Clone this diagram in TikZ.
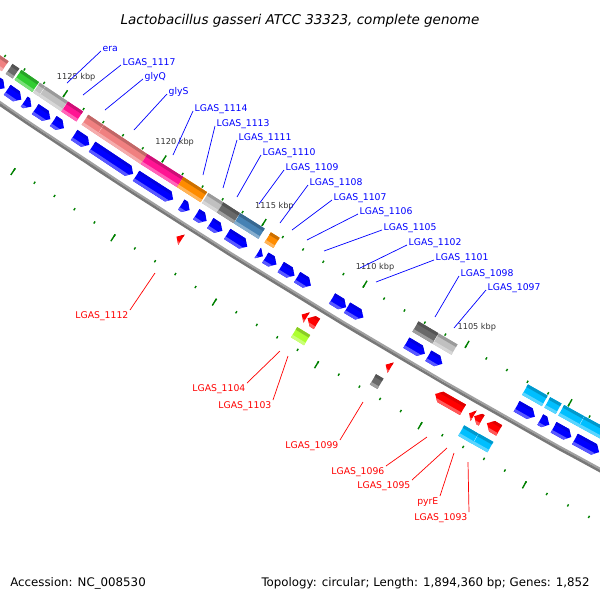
\documentclass[tikz,border=0pt]{standalone}
\usepackage{fontspec}
\setmainfont{DejaVu Sans}
\usepackage{xcolor}
\definecolor{cgblue}{RGB}{0,0,255}
\definecolor{cgred}{RGB}{255,0,0}
\definecolor{salmonc}{RGB}{240,128,128}
\definecolor{pinkc}{RGB}{255,20,147}
\definecolor{orangec}{RGB}{255,140,0}
\definecolor{silverc}{RGB}{192,192,192}
\definecolor{dimc}{RGB}{105,105,105}
\definecolor{limec}{RGB}{50,205,50}
\definecolor{steelc}{RGB}{70,130,180}
\definecolor{skyc}{RGB}{0,191,255}
\definecolor{gyellowc}{RGB}{173,255,47}
\definecolor{tickc}{RGB}{0,128,0}

\newcommand{\labfont}{\fontsize{6.6pt}{7pt}\selectfont}
\newcommand{\kbpfont}{\fontsize{5.8pt}{6pt}\selectfont}
\newcommand{\titfont}{\fontsize{9.6pt}{11pt}\selectfont\itshape}
\newcommand{\infofont}{\fontsize{8.4pt}{10pt}\selectfont}

% box feature: from kbp #1 to kbp #2, inner edge at #3 px outside the ruler
\newcommand{\gbox}[4]{%
  \pgfmathsetmacro\ga{121.46+0.19004*(#1-1112.5)}
  \pgfmathsetmacro\gb{121.46+0.19004*(#2-1112.5)}
  \pgfmathsetmacro\ra{7140+#3}
  \pgfmathsetmacro\rb{\ra+3}
  \pgfmathsetmacro\rc{\ra+9}
  \pgfmathsetmacro\rd{\ra+12}
  \fill[#4] (\ga:\ra) -- (\gb:\ra) -- (\gb:\rd) -- (\ga:\rd) -- cycle;
  \fill[#4!80!black] (\ga:\ra) -- (\gb:\ra) -- (\gb:\rb) -- (\ga:\rb) -- cycle;
  \fill[#4!65!white] (\ga:\rc) -- (\gb:\rc) -- (\gb:\rd) -- (\ga:\rd) -- cycle;
}
% arrow feature: from kbp #1 with its tip at kbp #2
\newcommand{\garrow}[4]{%
  \pgfmathsetmacro\ga{121.46+0.19004*(#1-1112.5)}
  \pgfmathsetmacro\gt{121.46+0.19004*(#2-1112.5)}
  \pgfmathsetmacro\hl{#1>#2 ? min(0.25,#1-#2) : -min(0.25,#2-#1)}
  \pgfmathsetmacro\gn{121.46+0.19004*(#2+\hl-1112.5)}
  \pgfmathsetmacro\gh{(\gn+\gt)/2}
  \pgfmathsetmacro\ra{7140+#3}
  \pgfmathsetmacro\rb{\ra+3}
  \pgfmathsetmacro\rm{\ra+6}
  \pgfmathsetmacro\rc{\ra+9}
  \pgfmathsetmacro\rd{\ra+12}
  \fill[#4] (\ga:\ra) -- (\gn:\ra) -- (\gt:\rm) -- (\gn:\rd) -- (\ga:\rd) -- cycle;
  \fill[#4!88!black] (\ga:\ra) -- (\gn:\ra) -- (\gh:\rb) -- (\ga:\rb) -- cycle;
  \fill[#4!65!white] (\ga:\rc) -- (\gh:\rc) -- (\gn:\rd) -- (\ga:\rd) -- cycle;
}

\begin{document}
\begin{tikzpicture}[x=0.025cm, y=-0.025cm,
    blab/.style={text=cgblue, font=\labfont, inner sep=1pt},
    rlab/.style={text=cgred, font=\labfont, inner sep=1pt},
    bline/.style={cgblue, line width=0.5pt},
    rline/.style={cgred, line width=0.5pt},
    klab/.style={text=black!80, font=\kbpfont, inner sep=0pt},
    tickm/.style={tickc, line width=1pt}]
    \useasboundingbox (0,0) rectangle (600,600);
    \clip (0,0) rectangle (600,600);

    % Title and footer
    \node[font=\titfont, anchor=base] (title) at (300,24) {Lactobacillus gasseri ATCC 33323, complete genome};
    \node[font=\infofont, anchor=base west, inner sep=0pt] (acc) at (10,586) {Accession: NC\_008530};
    \node[font=\infofont, anchor=base east, inner sep=0pt] (topo) at (590,586) {Topology: circular; Length: 1,894,360 bp; Genes: 1,852};

    \begin{scope}[shift={(4041.3,-5837.7)}]
        % Backbone
        \fill[black!37] plot[domain=117:126, samples=60] (\x:7183.5) -- plot[domain=126:117, samples=60] (\x:7185.5) -- cycle;
        \fill[black!53] plot[domain=117:126, samples=60] (\x:7185.5) -- plot[domain=126:117, samples=60] (\x:7188) -- cycle;

        % Ruler ticks
        \foreach \k in {1096,...,1130} {
            \pgfmathsetmacro\ta{121.46+0.19004*(\k-1112.5)}
            \draw[tickm] (\ta:7142.5) -- (\ta:7145);
            \draw[tickm] (\ta:7231) -- (\ta:7233.5);
        }
        \foreach \k in {1100,1105,...,1130} {
            \pgfmathsetmacro\ta{121.46+0.19004*(\k-1112.5)}
            \draw[tickm] (\ta:7137) -- (\ta:7145);
            \draw[tickm] (\ta:7231) -- (\ta:7239);
        }
        \foreach \k in {1105,1110,...,1125} {
            \pgfmathsetmacro\ta{121.46+0.19004*(\k-1112.5)}
            \node[klab] (t\k) at (\ta:7121.5) {\k\ kbp};
        }

        % Outer COG row (reverse strand)
        \gbox{1130}{1127.75}{6}{salmonc}
        \gbox{1127.55}{1127.2}{6}{dimc}
        \gbox{1127.1}{1126.2}{6}{limec}
        \gbox{1126.15}{1125.88}{6}{silverc}
        \gbox{1125.86}{1124.74}{6}{silverc}
        \gbox{1124.72}{1123.96}{6}{pinkc}
        \gbox{1123.7}{1122.93}{6}{salmonc}
        \gbox{1122.91}{1120.7}{6}{salmonc}
        \gbox{1120.7}{1118.9}{6}{pinkc}
        \gbox{1118.9}{1117.72}{6}{orangec}
        \gbox{1117.65}{1116.9}{6}{silverc}
        \gbox{1116.9}{1116.08}{6}{dimc}
        \gbox{1116.06}{1114.84}{6}{steelc}
        \gbox{1114.54}{1114.1}{6}{orangec}
        \gbox{1107.26}{1106.28}{6}{dimc}
        \gbox{1106.26}{1105.35}{6}{silverc}
        \gbox{1101.93}{1100.97}{6}{skyc}
        \gbox{1100.85}{1100.3}{6}{skyc}
        \gbox{1100.17}{1099.21}{6}{skyc}
        \gbox{1099.19}{1097.5}{6}{skyc}

        % Reverse strand genes
        \garrow{1130}{1127.25}{24.5}{cgblue}
        \garrow{1127.12}{1126.4}{24.5}{cgblue}
        \garrow{1126.25}{1125.88}{24.5}{cgblue}
        \garrow{1125.69}{1124.93}{24.5}{cgblue}
        \garrow{1124.78}{1124.24}{24.5}{cgblue}
        \garrow{1123.72}{1122.96}{24.5}{cgblue}
        \garrow{1122.82}{1120.75}{24.5}{cgblue}
        \garrow{1120.6}{1118.75}{24.5}{cgblue}
        \garrow{1118.35}{1117.93}{24.5}{cgblue}
        \garrow{1117.6}{1117.08}{24.5}{cgblue}
        \garrow{1116.9}{1116.3}{24.5}{cgblue}
        \garrow{1116.06}{1115.06}{24.5}{cgblue}
        \garrow{1114.55}{1114.29}{24.5}{cgblue}
        \garrow{1114.17}{1113.62}{24.5}{cgblue}
        \garrow{1113.41}{1112.73}{24.5}{cgblue}
        \garrow{1112.6}{1111.92}{24.5}{cgblue}
        \garrow{1110.88}{1110.18}{24.5}{cgblue}
        \garrow{1110.14}{1109.34}{24.5}{cgblue}
        \garrow{1107.24}{1106.34}{24.5}{cgblue}
        \garrow{1106.17}{1105.49}{24.5}{cgblue}
        \garrow{1101.89}{1101.01}{24.5}{cgblue}
        \garrow{1100.75}{1100.31}{24.5}{cgblue}
        \garrow{1100.1}{1099.25}{24.5}{cgblue}
        \garrow{1099.08}{1097.92}{24.5}{cgblue}
        \garrow{1097.75}{1096.5}{24.5}{cgblue}

        % Forward strand genes
        \garrow{1117.55}{1117.8}{54}{cgred}
        \garrow{1111.38}{1111.62}{54}{cgred}
        \garrow{1110.87}{1111.33}{54}{cgred}
        \garrow{1107.28}{1107.53}{54}{cgred}
        \garrow{1103.78}{1105.12}{54}{cgred}
        \garrow{1103.27}{1103.48}{54}{cgred}
        \garrow{1102.88}{1103.24}{54}{cgred}
        \garrow{1102.03}{1102.63}{54}{cgred}

        % Inner COG row (forward strand)
        \gbox{1111.51}{1110.87}{73}{gyellowc}
        \gbox{1107.67}{1107.31}{73}{dimc}
        \gbox{1103.41}{1102.73}{73}{skyc}
        \gbox{1102.71}{1102.01}{73}{skyc}
    \end{scope}

    % Label anchors on the map
    \coordinate (era-f) at (67,83);
    \coordinate (g1117-f) at (83,95);
    \coordinate (glyQ-f) at (105,110);
    \coordinate (glyS-f) at (134,130);
    \coordinate (g1114-f) at (173,155);
    \coordinate (g1113-f) at (203,175);
    \coordinate (g1111-f) at (223,188);
    \coordinate (g1110-f) at (237,197);
    \coordinate (g1109-f) at (259,204);
    \coordinate (g1108-f) at (280,223);
    \coordinate (g1107-f) at (292,230);
    \coordinate (g1106-f) at (307,240);
    \coordinate (g1105-f) at (324,251);
    \coordinate (g1102-f) at (360,268);
    \coordinate (g1101-f) at (376,282);
    \coordinate (g1098-f) at (435,317);
    \coordinate (g1097-f) at (454,328);
    \coordinate (g1112-f) at (155,273);
    \coordinate (g1104-f) at (280,351);
    \coordinate (g1103-f) at (288,356);
    \coordinate (g1099-f) at (363,402);
    \coordinate (g1096-f) at (427,437);
    \coordinate (g1095-f) at (447,448);
    \coordinate (pyrE-f) at (454,453);
    \coordinate (g1093-f) at (468,462);

    % Reverse strand labels
    \node[blab, anchor=base west] (era) at (101,51) {era};
    \node[blab, anchor=base west] (g1117) at (121,65) {LGAS\_1117};
    \node[blab, anchor=base west] (glyQ) at (143,79) {glyQ};
    \node[blab, anchor=base west] (glyS) at (167,94) {glyS};
    \node[blab, anchor=base west] (g1114) at (193,111) {LGAS\_1114};
    \node[blab, anchor=base west] (g1113) at (215,126) {LGAS\_1113};
    \node[blab, anchor=base west] (g1111) at (237,140) {LGAS\_1111};
    \node[blab, anchor=base west] (g1110) at (261,155) {LGAS\_1110};
    \node[blab, anchor=base west] (g1109) at (284,170) {LGAS\_1109};
    \node[blab, anchor=base west] (g1108) at (308,185) {LGAS\_1108};
    \node[blab, anchor=base west] (g1107) at (332,200) {LGAS\_1107};
    \node[blab, anchor=base west] (g1106) at (358,214) {LGAS\_1106};
    \node[blab, anchor=base west] (g1105) at (382,230) {LGAS\_1105};
    \node[blab, anchor=base west] (g1102) at (407,245) {LGAS\_1102};
    \node[blab, anchor=base west] (g1101) at (434,260) {LGAS\_1101};
    \node[blab, anchor=base west] (g1098) at (459,276) {LGAS\_1098};
    \node[blab, anchor=base west] (g1097) at (486,290) {LGAS\_1097};

    \draw[bline] (era.base west) -- (era-f);
    \draw[bline] (g1117.base west) -- (g1117-f);
    \draw[bline] (glyQ.base west) -- (glyQ-f);
    \draw[bline] (glyS.base west) -- (glyS-f);
    \draw[bline] (g1114.base west) -- (g1114-f);
    \draw[bline] (g1113.base west) -- (g1113-f);
    \draw[bline] (g1111.base west) -- (g1111-f);
    \draw[bline] (g1110.base west) -- (g1110-f);
    \draw[bline] (g1109.base west) -- (g1109-f);
    \draw[bline] (g1108.base west) -- (g1108-f);
    \draw[bline] (g1107.base west) -- (g1107-f);
    \draw[bline] (g1106.base west) -- (g1106-f);
    \draw[bline] (g1105.base west) -- (g1105-f);
    \draw[bline] (g1102.base west) -- (g1102-f);
    \draw[bline] (g1101.base west) -- (g1101-f);
    \draw[bline] (g1098.base west) -- (g1098-f);
    \draw[bline] (g1097.base west) -- (g1097-f);

    % Forward strand labels
    \node[rlab, anchor=north east] (g1112) at (130,310) {LGAS\_1112};
    \node[rlab, anchor=north east] (g1104) at (247,383) {LGAS\_1104};
    \node[rlab, anchor=north east] (g1103) at (273,400) {LGAS\_1103};
    \node[rlab, anchor=north east] (g1099) at (340,440) {LGAS\_1099};
    \node[rlab, anchor=north east] (g1096) at (386,466) {LGAS\_1096};
    \node[rlab, anchor=north east] (g1095) at (412,480) {LGAS\_1095};
    \node[rlab, anchor=north east] (pyrE) at (440,496) {pyrE};
    \node[rlab, anchor=north east] (g1093) at (469,512) {LGAS\_1093};

    \draw[rline] (g1112.north east) -- (g1112-f);
    \draw[rline] (g1104.north east) -- (g1104-f);
    \draw[rline] (g1103.north east) -- (g1103-f);
    \draw[rline] (g1099.north east) -- (g1099-f);
    \draw[rline] (g1096.north east) -- (g1096-f);
    \draw[rline] (g1095.north east) -- (g1095-f);
    \draw[rline] (pyrE.north east) -- (pyrE-f);
    \draw[rline] (g1093.north east) -- (g1093-f);
\end{tikzpicture}
\end{document}
